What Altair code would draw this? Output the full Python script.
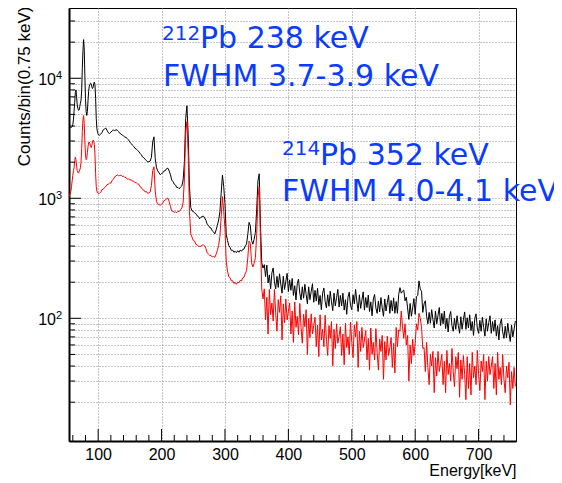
import altair as alt
import pandas as pd

# ---- spectrum data ----
energy = list(range(54, 101)) + list(range(102, 760, 2))

black_counts = [
    # 54-100 keV (1 keV steps)
    4050, 3950, 3900, 3880, 3900, 3950, 4100, 4500, 5300, 6300,
    7600, 8000, 7000, 6000, 5600, 5400, 5450, 5800, 6200, 6600,
    8000, 12000, 17000, 21000, 18000, 10500, 6800, 5300, 4900, 5300,
    6500, 7800, 8600, 8900, 9100, 9000, 8500, 8200, 8400, 9000,
    9300, 8800, 6800, 4600, 3800, 3550, 3400,
    # 102-360 keV (2 keV steps)
    3350, 3420, 3530, 3720, 3780, 3850, 3680, 3520, 3460, 3560,
    3640, 3720, 3630, 3740, 3690, 3610, 3480, 3430, 3360, 3310,
    3240, 3210, 3140, 3060, 2940, 2860, 2770, 2710, 2610, 2570,
    2510, 2460, 2370, 2310, 2210, 2180, 2110, 2070, 2010, 2020,
    2040, 2200, 2950, 3250, 2150, 1800, 1690, 1630, 1570, 1610,
    1630, 1690, 1700, 1770, 1780, 1690, 1570, 1420, 1380, 1310,
    1290, 1230, 1230, 1200, 1240, 1270, 1420, 2000, 4600, 5900,
    3400, 1250, 840, 785, 778, 755, 745, 715, 705, 675,
    695, 705, 710, 685, 655, 605, 595, 570, 565, 535,
    525, 505, 545, 595, 660, 770, 1100, 1560, 1250, 900,
    500, 445, 405, 390, 368, 370, 355, 362, 352, 366,
    355, 370, 362, 375, 378, 400, 415, 500, 630, 590,
    445, 415, 455, 520, 800, 1400, 1600, 600, 290, 262,
    # 362-758 keV (2 keV steps)
    280, 223, 278, 197, 230, 176, 239, 263, 201, 176,
    224, 181, 235, 193, 162, 224, 174, 204, 237, 167,
    209, 171, 215, 155, 187, 142, 194, 212, 162, 142,
    183, 147, 192, 158, 132, 183, 143, 168, 194, 136,
    171, 139, 178, 130, 155, 118, 162, 179, 138, 122,
    157, 126, 168, 137, 116, 162, 127, 149, 174, 124,
    155, 127, 162, 117, 143, 108, 150, 165, 128, 118,
    157, 132, 174, 139, 114, 157, 121, 142, 166, 117,
    149, 123, 156, 114, 137, 105, 145, 158, 122, 110,
    139, 113, 149, 122, 104, 145, 115, 135, 156, 110,
    141, 115, 148, 110, 138, 110, 158, 180, 162, 168,
    172, 140, 150, 122, 98, 133, 104, 122, 146, 108,
    151, 155, 205, 175, 168, 112, 132, 140, 104, 90,
    112, 91, 118, 98, 83, 115, 90, 106, 123, 87,
    110, 90, 115, 82, 100, 77, 104, 114, 87, 78,
    100, 81, 105, 87, 75, 103, 81, 97, 113, 81,
    101, 83, 107, 79, 94, 72, 100, 109, 83, 75,
    96, 78, 102, 84, 71, 99, 78, 92, 105, 75,
    94, 78, 97, 71, 87, 66, 90, 99, 77, 68,
    86, 69, 91, 75, 64, 88, 70, 81, 95,
]

red_counts = [
    # 54-100 keV
    1030, 1060, 1100, 1150, 1250, 1400, 1550, 1700, 1800, 2050,
    2200, 2100, 1850, 1700, 1650, 1620, 1680, 1720, 1800, 2000,
    2600, 3600, 4500, 4900, 4200, 3000, 2300, 2100, 2150, 2400,
    2700, 2900, 2950, 2850, 2700, 2650, 2750, 2950, 3050, 3000,
    2800, 2300, 1600, 1250, 1150, 1110, 1100,
    # 102-360 keV
    1100, 1120, 1180, 1190, 1230, 1250, 1300, 1310, 1340, 1340,
    1410, 1440, 1510, 1530, 1570, 1540, 1550, 1560, 1520, 1530,
    1490, 1490, 1440, 1450, 1420, 1430, 1390, 1390, 1350, 1350,
    1320, 1310, 1250, 1230, 1180, 1170, 1130, 1140, 1100, 1110,
    1130, 1280, 1700, 1830, 1150, 940, 900, 885, 875, 895,
    915, 955, 965, 995, 1000, 940, 855, 785, 780, 765,
    770, 760, 780, 775, 805, 830, 920, 1450, 3500, 4350,
    2400, 780, 505, 475, 445, 440, 415, 412, 398, 396,
    398, 408, 408, 402, 380, 352, 342, 334, 334, 324,
    328, 322, 342, 368, 405, 480, 700, 1030, 780, 560,
    295, 248, 222, 218, 205, 206, 195, 199, 192, 200,
    197, 207, 205, 217, 220, 235, 250, 320, 440, 420,
    290, 268, 288, 320, 500, 1000, 1250, 440, 175, 145,
    # 362-758 keV
    176, 97, 150, 74, 174, 107, 134, 95, 174, 111,
    78, 143, 112, 154, 66, 132, 92, 145, 97, 114,
    134, 74, 115, 63, 137, 84, 104, 73, 133, 84,
    62, 108, 85, 118, 50, 100, 69, 109, 74, 87,
    102, 58, 88, 48, 107, 66, 81, 58, 106, 67,
    49, 87, 68, 94, 40, 81, 56, 90, 62, 71,
    85, 49, 74, 41, 91, 57, 70, 50, 93, 63,
    47, 88, 70, 94, 39, 78, 53, 84, 57, 66,
    79, 45, 68, 37, 83, 50, 63, 45, 82, 52,
    37, 67, 53, 72, 31, 64, 45, 71, 49, 57,
    69, 39, 62, 35, 84, 58, 80, 78, 115, 85,
    68, 90, 60, 72, 30, 60, 42, 67, 49, 62,
    90, 80, 110, 100, 85, 56, 57, 36, 63, 39,
    28, 50, 40, 53, 24, 47, 33, 53, 36, 42,
    50, 28, 44, 24, 54, 34, 42, 30, 56, 36,
    27, 48, 38, 52, 22, 45, 31, 49, 34, 21,
    48, 26, 42, 23, 52, 32, 40, 28, 54, 34,
    25, 44, 36, 50, 21, 44, 30, 48, 34, 40,
    48, 26, 42, 23, 52, 31, 39, 28, 50, 31,
    24, 40, 32, 43, 19, 36, 26, 39, 27,
]

# ---- axis ticks / labels ----
x_major = [100, 200, 300, 400, 500, 600, 700]
x_minor = [60, 80, 120, 140, 160, 180, 220, 240, 260, 280, 320, 340, 360, 380,
           420, 440, 460, 480, 520, 540, 560, 580, 620, 640, 660, 680, 720, 740]
y_major = [100, 1000, 10000]
y_exponents = ["2", "3", "4"]
y_minor = [20, 30, 40, 50, 60, 70, 80, 90,
           200, 300, 400, 500, 600, 700, 800, 900,
           2000, 3000, 4000, 5000, 6000, 7000, 8000, 9000,
           20000, 30000]

W, H = 447, 433
FONT = "Liberation Sans"
BLUE = "#0a3cff"

black_df = pd.DataFrame({"energy": energy, "counts": black_counts})
red_df = pd.DataFrame({"energy": energy, "counts": red_counts})

xs = alt.Scale(domain=[54, 759], nice=False, zero=False)
ys = alt.Scale(type="log", domain=[9.5, 38500], nice=False)

grid_style = dict(grid=True, gridColor="#8c8c8c", gridDash=[1, 2], gridWidth=1,
                  ticks=False, domainColor="black", domainWidth=2)

xa = alt.Axis(values=x_major, labelFont=FONT, labelFontSize=16,
              labelColor="black", labelPadding=5,
              title="Energy[keV]", titleFont=FONT, titleFontSize=16,
              titleFontWeight="normal", titleColor="black", titleAlign="right",
              titleBaseline="alphabetic", titleX=W, titleY=34, **grid_style)
ya = alt.Axis(values=sorted(y_major + y_minor), labels=False,
              title="Counts/bin(0.75 keV)", titleFont=FONT,
              titleFontSize=17, titleFontWeight="normal", titleColor="black",
              titleAngle=270, titleAlign="right", titleBaseline="bottom",
              titleX=-36, titleY=-2, **grid_style)


def X(field):
    return alt.X(field, scale=xs, axis=xa)


def Y(field):
    return alt.Y(field, scale=ys, axis=ya)


black_line = alt.Chart(black_df).mark_line(color="black", strokeWidth=1, clip=True).encode(
    x=X("energy:Q"), y=Y("counts:Q"))

red_line = alt.Chart(red_df).mark_line(color="#ff0000", strokeWidth=1, clip=True).encode(
    x=X("energy:Q"), y=Y("counts:Q"))


def xticks(vals, length):
    return alt.Chart(pd.DataFrame({"energy": vals})).mark_rule(color="black", strokeWidth=1).encode(
        x=X("energy:Q"), y=alt.value(H), y2=alt.value(H - length))


def yticks(vals, length):
    return alt.Chart(pd.DataFrame({"counts": vals})).mark_rule(color="black", strokeWidth=1).encode(
        y=Y("counts:Q"), x=alt.value(0), x2=alt.value(length))


ylab_df = pd.DataFrame({"counts": y_major, "exp": y_exponents})
ten_labels = alt.Chart(ylab_df).mark_text(text="10", align="right", baseline="middle",
                                          dy=2, font=FONT, fontSize=16, color="black").encode(
    y=Y("counts:Q"), x=alt.value(-13))
exp_labels = alt.Chart(ylab_df).mark_text(align="left", baseline="alphabetic", dy=1,
                                          font=FONT, fontSize=11, color="black").encode(
    y=Y("counts:Q"), x=alt.value(-13), text="exp:N")

one = pd.DataFrame({"k": [0]})


def note(txt, px, py, size):
    return alt.Chart(one).mark_text(text=txt, align="left", baseline="alphabetic",
                                    font="DejaVu Sans", fontSize=size, color=BLUE).encode(
        x=alt.value(px), y=alt.value(py))


notes = [
    note("212", 93, 32, 20),
    note("Pb 238 keV", 131, 40, 30),
    note("FWHM 3.7-3.9 keV", 94, 78, 30),
    note("214", 213, 147, 20),
    note("Pb 352 keV", 251, 157, 30),
    note("FWHM 4.0-4.1 keV", 213, 193, 30),
]

chart = alt.layer(
    black_line, red_line,
    xticks(x_major, 12), xticks(x_minor, 6),
    yticks(y_major, 12), yticks(y_minor, 6),
    ten_labels, exp_labels, *notes,
).properties(
    width=W, height=H,
    autosize=alt.AutoSizeParams(type="none"),
    padding={"left": 61, "top": 0, "right": 38, "bottom": 42},
    background="white",
).configure_view(stroke="black", strokeWidth=1)

chart.save("out.html", embed_options={"renderer": "svg", "actions": False})
